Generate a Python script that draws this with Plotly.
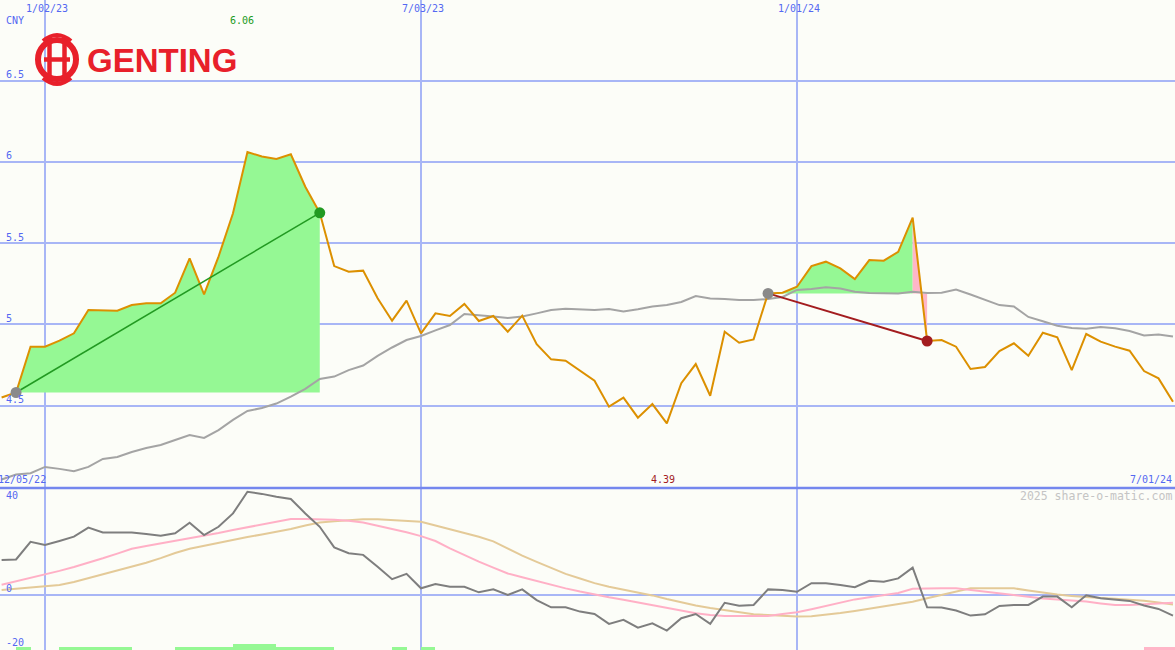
import plotly.graph_objects as go
import pandas as pd

# ---------------- data ----------------
weeks = pd.date_range("2022-12-12", periods=82, freq="7D")

price = [4.549, 4.58, 4.862, 4.862, 4.899, 4.944, 5.088, 5.085, 5.083, 5.118,
         5.129, 5.129, 5.194, 5.406, 5.184, 5.416, 5.683, 6.06, 6.032, 6.017,
         6.046, 5.846, 5.686, 5.358, 5.323, 5.330, 5.160, 5.022, 5.145, 4.944,
         5.067, 5.051, 5.125, 5.020, 5.051, 4.954, 5.053, 4.877, 4.784, 4.776,
         4.714, 4.653, 4.493, 4.548, 4.425, 4.509, 4.39, 4.637, 4.755, 4.560,
         4.954, 4.886, 4.907, 5.190, 5.194, 5.231, 5.358, 5.385, 5.344, 5.278,
         5.395, 5.391, 5.446, 5.656, 4.897, 4.903, 4.862, 4.725, 4.737, 4.835,
         4.883, 4.806, 4.948, 4.920, 4.718, 4.940, 4.893, 4.862, 4.837, 4.712,
         4.667, 4.523]

moving_avg = [4.045, 4.075, 4.083, 4.122, 4.110, 4.095, 4.122, 4.171, 4.183, 4.214,
              4.238, 4.257, 4.288, 4.318, 4.300, 4.349, 4.411, 4.466, 4.485, 4.512,
              4.555, 4.602, 4.663, 4.678, 4.718, 4.746, 4.805, 4.857, 4.903, 4.928,
              4.962, 4.995, 5.063, 5.057, 5.048, 5.038, 5.048, 5.067, 5.088, 5.096,
              5.094, 5.088, 5.094, 5.078, 5.092, 5.109, 5.118, 5.137, 5.174, 5.158,
              5.155, 5.149, 5.149, 5.155, 5.168, 5.211, 5.217, 5.227, 5.220, 5.200,
              5.192, 5.190, 5.190, 5.200, 5.192, 5.194, 5.214, 5.183, 5.149, 5.118,
              5.109, 5.045, 5.018, 4.991, 4.977, 4.973, 4.983, 4.975, 4.958, 4.931,
              4.937, 4.925]

momentum = [13.1, 13.3, 19.9, 18.7, 20.2, 21.8, 25.2, 23.4, 23.4, 23.4,
            22.8, 22.2, 23.1, 27.0, 22.4, 25.5, 30.5, 38.6, 37.8, 36.7,
            35.9, 30.5, 25.5, 17.8, 15.6, 15.0, 10.6, 5.9, 7.9, 2.5,
            4.1, 3.1, 3.1, 1.0, 2.1, 0.0, 2.1, -1.9, -4.6, -4.6,
            -6.2, -7.1, -10.8, -9.3, -12.2, -10.6, -13.3, -8.7, -7.1, -10.8,
            -2.9, -4.0, -3.7, 2.1, 1.9, 1.2, 4.4, 4.4, 3.7, 2.9,
            5.3, 5.0, 6.2, 10.2, -4.6, -4.7, -5.8, -7.7, -7.2, -4.1,
            -3.7, -3.7, -0.6, -0.6, -4.6, -0.1, -1.2, -1.6, -2.2, -3.9,
            -5.2, -7.7]

momentum_fast = [3.85, 5.12, 6.36, 7.63, 9.01, 10.47, 12.0, 13.72, 15.48, 17.27,
                 18.28, 19.21, 20.15, 21.08, 22.06, 23.18, 24.3, 25.35, 26.36, 27.4,
                 28.41, 28.41, 28.41, 28.15, 27.74, 27.07, 25.91, 24.71, 23.44, 22.02,
                 20.19, 17.46, 14.84, 12.49, 10.24, 8.04, 6.62, 5.16, 3.70, 2.47,
                 1.27, 0.11, -0.86, -1.79, -2.80, -3.93, -5.05, -6.06, -6.80, -7.51,
                 -7.85, -7.85, -7.85, -7.81, -7.10, -6.43, -5.31, -4.04, -2.77, -1.64,
                 -0.86, -0.07, 0.75, 2.36, 2.50, 2.50, 2.50, 1.83, 1.08, 0.41,
                 -0.11, -0.67, -1.31, -1.68, -2.09, -2.47, -3.14, -3.74, -3.74, -3.55,
                 -3.18, -2.92]

momentum_slow = [1.91, 2.32, 2.73, 3.18, 3.78, 4.86, 6.28, 7.74, 9.16, 10.58,
                 12.04, 13.79, 15.70, 17.31, 18.47, 19.63, 20.79, 21.68, 22.62, 23.55,
                 24.67, 25.98, 27.14, 27.59, 28.07, 28.34, 28.34, 27.96, 27.66, 27.36,
                 25.98, 24.56, 23.21, 21.79, 20.07, 17.31, 14.69, 12.37, 10.09, 7.89,
                 6.17, 4.45, 3.10, 2.02, 0.93, -0.15, -1.53, -2.80, -3.96, -4.90,
                 -5.68, -6.47, -7.18, -7.51, -7.81, -8.07, -7.96, -7.40, -6.73, -5.94,
                 -5.08, -4.19, -3.33, -2.50, -1.23, -0.07, 1.31, 2.50, 2.50, 2.50,
                 2.50, 1.68, 0.82, 0.15, -0.34, -0.86, -1.12, -1.42, -1.72, -2.17,
                 -2.80, -3.51]

# 0 none, 1 buy, 2 strong buy, -1 sell
signal = [0, 1, 0, 0, 1, 1, 1, 1, 1, 0,
          0, 0, 1, 1, 1, 1, 2, 2, 2, 1,
          1, 1, 1, 0, 0, 0, 0, 1, 0, 1,
          0, 0, 0, 0, 0, 0, 0, 0, 0, 0,
          0, 0, 0, 0, 0, 0, 0, 0, 0, 0,
          0, 0, 0, 0, 0, 0, 0, 0, 0, 0,
          0, 0, 0, 0, 0, 0, 0, 0, 0, 0,
          0, 0, 0, 0, 0, 0, 0, 0, 0, -1,
          -1, -1]

price_ticks = [4.5, 5, 5.5, 6, 6.5]
price_tick_labels = ["4.5", "5", "5.5", "6", "6.5"]
osc_ticks = [40, 0, -20]
osc_tick_labels = ["40", "0", "-20"]
date_ticks = ["2023-01-02", "2023-07-03", "2024-01-01"]
date_tick_labels = ["1/02/23", "7/03/23", "1/01/24"]

trade1 = (1, 22)        # winning trade: start, end index
trade2 = (53, 63, 64)   # losing trade: start, last-high, end index

# ---------------- styles ----------------
W, H = 1175, 650
BG = "#fcfdf8"
BLUE_TXT = "#5468f2"
GRID = "#a8b6f6"
DIVIDER = "#7487ee"
ORANGE = "#dc9000"
GRAYMA = "#a4a4a4"
GREEN_FILL = "#95f894"
PINK_FILL = "#ffb6c8"
DKGREEN = "#229a22"
DKRED = "#a31c1f"
MONO = "DejaVu Sans Mono"

split = 162 / H  # bottom panel height fraction
X_RANGE = ["2022-12-11 05:17", "2024-07-01 23:30"]
Y1_RANGE = [3.9923, 6.9954]
Y2_RANGE = [-20.56, 40.0]

fig = go.Figure()

d = list(weeks)

# fills
s, e = trade1
base1 = price[s]
fig.add_trace(go.Scatter(
    x=d[s:e + 1] + [d[e], d[s]], y=price[s:e + 1] + [base1, base1],
    fill="toself", fillcolor=GREEN_FILL, mode="lines", line=dict(width=0),
    hoverinfo="skip", showlegend=False))

s2, h2, e2 = trade2
base2 = price[s2]
fig.add_trace(go.Scatter(
    x=d[s2:h2 + 1] + [d[h2], d[s2]], y=price[s2:h2 + 1] + [base2, base2],
    fill="toself", fillcolor=GREEN_FILL, mode="lines", line=dict(width=0),
    hoverinfo="skip", showlegend=False))
fig.add_trace(go.Scatter(
    x=[d[h2], d[h2], d[e2], d[e2], d[h2]],
    y=[price[h2], base2, base2, price[e2], price[h2]],
    fill="toself", fillcolor=PINK_FILL, mode="lines", line=dict(width=0),
    hoverinfo="skip", showlegend=False))

# moving average & price
fig.add_trace(go.Scatter(x=d, y=moving_avg, mode="lines",
                         line=dict(color=GRAYMA, width=2), showlegend=False))
fig.add_trace(go.Scatter(x=d, y=price, mode="lines",
                         line=dict(color=ORANGE, width=2), showlegend=False))

# trade lines
fig.add_trace(go.Scatter(x=[d[s], d[e]], y=[price[s], price[e]], mode="lines",
                         line=dict(color=DKGREEN, width=1.5), showlegend=False))
fig.add_trace(go.Scatter(x=[d[s2], d[e2]], y=[price[s2], price[e2]], mode="lines",
                         line=dict(color=DKRED, width=2), showlegend=False))
# markers
fig.add_trace(go.Scatter(x=[d[s], d[s2]], y=[price[s], price[s2]], mode="markers",
                         marker=dict(color="#8a8a8a", size=11), showlegend=False))
fig.add_trace(go.Scatter(x=[d[e]], y=[price[e]], mode="markers",
                         marker=dict(color=DKGREEN, size=11), showlegend=False))
fig.add_trace(go.Scatter(x=[d[e2]], y=[price[e2]], mode="markers",
                         marker=dict(color=DKRED, size=11), showlegend=False))

# lower panel: signal bars
bar_h = {1: 1.45, 2: 2.7, -1: 1.45}
bar_c = {1: GREEN_FILL, 2: GREEN_FILL, -1: PINK_FILL}
bx = [d[i] for i, v in enumerate(signal) if v != 0]
by = [bar_h[v] for v in signal if v != 0]
bcol = [bar_c[v] for v in signal if v != 0]
fig.add_trace(go.Bar(x=bx, y=by, base=-21, offset=0, width=7 * 86400000,
                     marker=dict(color=bcol, line=dict(width=0)),
                     xaxis="x2", yaxis="y2", showlegend=False))

fig.add_trace(go.Scatter(x=d, y=momentum_slow, mode="lines", xaxis="x2", yaxis="y2",
                         line=dict(color="#e4ca98", width=2), showlegend=False))
fig.add_trace(go.Scatter(x=d, y=momentum_fast, mode="lines", xaxis="x2", yaxis="y2",
                         line=dict(color="#ffb0c6", width=2), showlegend=False))
fig.add_trace(go.Scatter(x=d, y=momentum, mode="lines", xaxis="x2", yaxis="y2",
                         line=dict(color="#7e7e7e", width=2), showlegend=False))

# ---------------- layout ----------------
xcommon = dict(type="date", range=X_RANGE, showticklabels=False, zeroline=False,
               tickvals=date_ticks, showgrid=True, gridcolor=GRID, gridwidth=1.5,
               showline=False, ticks="")
fig.update_layout(
    width=W, height=H, margin=dict(l=0, r=0, t=0, b=0),
    paper_bgcolor=BG, plot_bgcolor=BG, showlegend=False, bargap=0,
    xaxis=dict(domain=[0, 1], anchor="y", **xcommon),
    xaxis2=dict(domain=[0, 1], anchor="y2", matches="x", **xcommon),
    yaxis=dict(domain=[split, 1], range=Y1_RANGE, tickvals=price_ticks,
               showticklabels=False, showgrid=True, gridcolor=GRID, gridwidth=2,
               zeroline=False, ticks=""),
    yaxis2=dict(domain=[0, split], range=Y2_RANGE, tickvals=[0],
                showticklabels=False, showgrid=True, gridcolor=GRID, gridwidth=2,
                zeroline=False, ticks=""),
)

# divider between panels
fig.add_shape(type="line", xref="paper", yref="paper", x0=0, x1=1, y0=split, y1=split,
              line=dict(color=DIVIDER, width=2.5))

ann = []
def txt(text, x, y, color=BLUE_TXT, size=10, xanchor="left", yanchor="middle",
        xref="paper", yref="paper", font=MONO, **kw):
    ann.append(dict(text=text, x=x, y=y, xref=xref, yref=yref, xanchor=xanchor,
                    yanchor=yanchor, showarrow=False, borderpad=0,
                    font=dict(family=font, size=size, color=color), **kw))

def py(pix):
    return 1 - pix / H

# y tick labels
for v, lab in zip(price_ticks, price_tick_labels):
    txt(lab, 5 / W, v, yref="y", yshift=6)
for v, lab in zip(osc_ticks, osc_tick_labels):
    shift = -7 if v == 40 else 6.5
    txt(lab, 5 / W, v, yref="y2", yshift=shift)

# date labels on top
for dt, lab in zip(date_ticks, date_tick_labels):
    txt(lab, dt, py(9), xref="x", xanchor="center", xshift=2)

txt("CNY", 5 / W, py(21))
txt("12/05/22", -3 / W, py(479))
txt("7/01/24", 1173 / W, py(479), xanchor="right")
txt("2025 share-o-matic.com", 1173 / W, py(496), color="#c4c4c4", size=11.5,
    xanchor="right")

# high / low labels
imax = price.index(max(price))
imin = price.index(min(price))
txt(f"{max(price):.2f}", d[imax], py(21), color=DKGREEN, xref="x", xanchor="center",
    xshift=-5)
txt(f"{min(price):.2f}", d[imin], py(479), color=DKRED, xref="x", xanchor="center",
    xshift=-4)

# logo text
RED = "#e8202a"
ann.append(dict(text="<b>GENTING</b>", x=86 / W, y=py(60), xref="paper", yref="paper",
                xanchor="left", yanchor="middle", showarrow=False, borderpad=0,
                font=dict(family="Liberation Sans", size=33, color=RED)))
fig.update_layout(annotations=ann)

# logo emblem
def P(x, y):
    return f"{x / W:.5f},{1 - y / H:.5f}"
fig.add_shape(type="circle", xref="paper", yref="paper",
              x0=38 / W, x1=76 / W, y0=py(79), y1=py(40),
              line=dict(color=RED, width=6), fillcolor="rgba(0,0,0,0)")
for xx in (49.5, 64.5):
    fig.add_shape(type="line", xref="paper", yref="paper", x0=xx / W, x1=xx / W,
                  y0=py(37), y1=py(81), line=dict(color=RED, width=4.5))
fig.add_shape(type="line", xref="paper", yref="paper", x0=44 / W, x1=70 / W,
              y0=py(59.5), y1=py(59.5), line=dict(color=RED, width=4.5))
fig.add_shape(type="path", xref="paper", yref="paper",
              path=f"M {P(43, 41)} Q {P(57, 29)} {P(71, 41)}",
              line=dict(color=RED, width=4))
fig.add_shape(type="path", xref="paper", yref="paper",
              path=f"M {P(43, 78)} Q {P(57, 90)} {P(71, 78)}",
              line=dict(color=RED, width=4))

fig.write_html("out.html", config={"displayModeBar": False},
               post_script="document.body.style.margin='0';"
                           "document.body.style.padding='0';"
                           "document.body.style.overflow='hidden';")
